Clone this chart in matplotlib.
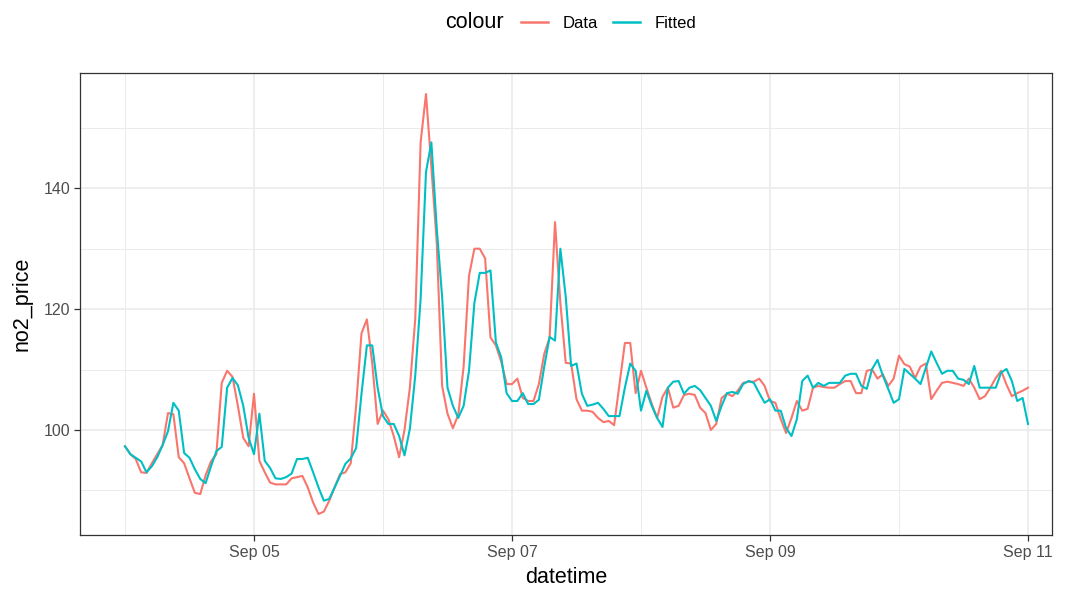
import matplotlib
matplotlib.use("Agg")
import matplotlib.pyplot as plt
import matplotlib.dates as mdates
from matplotlib.lines import Line2D
import pandas as pd
import numpy as np

start = "2019-09-04 00:00"
data_vals = [
    97.3, 96, 95.2, 93, 92.9, 94.5, 96, 97.5, 102.8, 102.6,
    95.5, 94.5, 92, 89.6, 89.4, 92.5, 94.8, 96, 107.8, 109.8,
    108.8, 104, 98.7, 97.3, 106, 94.9, 93, 91.3, 91, 91,
    91, 92, 92.2, 92.4, 90.5, 88, 86.1, 86.5, 88.3, 90.5,
    92.7, 93, 94.5, 104, 116, 118.3, 111, 101, 103.2, 101.8,
    99, 95.5, 100, 107, 118.4, 147.6, 155.6, 143.5, 131, 107.3,
    102.7, 100.3, 102.5, 110.5, 125.5, 130, 130, 128.4, 115.3, 114,
    111.3, 107.6, 107.6, 108.5, 105.3, 104.8, 104.8, 107.6, 112.6, 115.3,
    134.4, 121, 111.1, 111, 105.1, 103.2, 103.2, 103, 102, 101.3,
    101.5, 100.8, 107.6, 114.4, 114.4, 106.1, 109.8, 107, 104.3, 102,
    105.5, 107, 103.7, 104, 105.8, 106, 105.8, 103.7, 102.8, 100,
    101, 105.3, 106, 105.6, 106.5, 107.8, 108, 108, 108.5, 107.3,
    104.8, 104.5, 101.8, 99.5, 102, 104.8, 103.2, 103.5, 107, 107.3,
    107.1, 107, 107, 107.6, 108.1, 108.1, 106.1, 106.1, 109.8, 110,
    108.5, 109.2, 107.3, 108.5, 112.3, 110.9, 110.5, 108.6, 110.5, 111,
    105.1, 106.5, 107.8, 108, 107.8, 107.6, 107.3, 108.5, 107, 105.1,
    105.6, 107, 108.6, 109.8, 107.5, 105.6, 106.1, 106.5, 107,
]
fitted_vals = [
    97.3, 96, 95.4, 94.8, 93, 94, 95.5, 97.5, 99.8, 104.5,
    103.2, 96.2, 95.4, 93.5, 91.9, 91.2, 94, 96.5, 97.2, 107,
    108.6, 107.4, 104, 98.7, 96, 102.7, 94.9, 93.7, 92, 91.9,
    92.2, 92.8, 95.2, 95.2, 95.4, 93, 90.5, 88.3, 88.6, 90.5,
    92.4, 94.4, 95.3, 97, 106, 114, 114, 107, 102.3, 101,
    101, 99, 95.8, 100.2, 109, 121.7, 142.7, 147.6, 133.4, 122,
    107, 104, 102, 104, 109.8, 121, 126, 126, 126.4, 114.5,
    112, 106.1, 104.8, 104.8, 106.1, 104.3, 104.3, 105, 110.5, 115.4,
    114.8, 130, 122, 110.6, 111, 106, 104, 104.2, 104.5, 103.5,
    102.3, 102.3, 102.3, 107, 111, 109.8, 103.2, 106.5, 104, 102,
    100.5, 107, 108, 108.1, 106, 107, 107.3, 106.6, 105.3, 104,
    101.5, 104, 106.1, 106.3, 106, 107.6, 108.1, 107.8, 106.1, 104.5,
    105.1, 103.2, 103.2, 100.3, 99, 101.8, 108.1, 109, 107, 107.8,
    107.3, 107.8, 107.8, 107.8, 109, 109.3, 109.3, 107.3, 106.8, 110.1,
    111.6, 109, 106.8, 104.5, 105.1, 110.1, 109.3, 108.5, 107.6, 110.3,
    113, 111.1, 109.3, 109.8, 109.8, 108.5, 108.3, 107.6, 110.6, 107,
    107, 107, 107, 109.5, 110.1, 108.1, 104.8, 105.3, 101,
]
series_names = ["Data", "Fitted"]
y_ticks = [100, 120, 140]
y_minor = [90, 110, 130, 150]

times = pd.date_range(start, periods=len(data_vals), freq="h")

RED = "#F8766D"
CYAN = "#00BFC4"
GRID = "#EBEBEB"

plt.rcParams["font.family"] = ["Liberation Sans", "DejaVu Sans"]

fig = plt.figure(figsize=(10.66, 5.90), dpi=100)
ax = fig.add_axes([80/1066, 1-535/590, (1052-80)/1066, (535-73)/590])

ax.plot(times, data_vals, color=RED, lw=1.5, solid_joinstyle="round", zorder=3)
ax.plot(times, fitted_vals, color=CYAN, lw=1.5, solid_joinstyle="round", zorder=3)

t0 = mdates.date2num(times[0])
t1 = mdates.date2num(times[-1])
ax.set_xlim(t0 - 45/129, t1 + 24/129)
allv = np.concatenate([data_vals, fitted_vals])
lo, hi = allv.min(), allv.max()
pad = 0.05 * (hi - lo)
ax.set_ylim(lo - pad, hi + pad)

major_days = pd.date_range("2019-09-05", "2019-09-11", freq="2D")
minor_days = pd.date_range("2019-09-04", "2019-09-10", freq="2D")
ax.set_xticks(mdates.date2num(major_days))
ax.set_xticklabels([d.strftime("%b %d") for d in major_days])
ax.set_xticks(mdates.date2num(minor_days), minor=True)
ax.set_yticks(y_ticks)
ax.set_yticks(y_minor, minor=True)

ax.grid(True, which="major", color=GRID, lw=1.2, zorder=0)
ax.grid(True, which="minor", color=GRID, lw=0.7, zorder=0)
ax.set_axisbelow(True)

for s in ax.spines.values():
    s.set_color("#333333")
    s.set_linewidth(0.9)

ax.tick_params(which="major", length=4, width=0.9, color="#333333",
               labelcolor="#4D4D4D", labelsize=11.5, pad=3)
ax.tick_params(which="minor", length=0)

ax.set_xlabel("datetime", fontsize=15.5, color="black", labelpad=5)
ax.set_ylabel("no2_price", fontsize=15.5, color="black", labelpad=8)

# legend on top
fig.text(445/1066, 1-23/590, "colour", fontsize=15.5, ha="left", va="center")
handles = [Line2D([], [], color=RED, lw=1.8), Line2D([], [], color=CYAN, lw=1.8)]
fig.legend(handles, series_names, loc="center left",
           bbox_to_anchor=(521/1066, 1-23/590), ncol=2, frameon=False,
           fontsize=12, handlelength=1.6, handletextpad=0.9,
           columnspacing=0.9, borderpad=0, borderaxespad=0)

fig.savefig("out.png", dpi=100, facecolor="white")
